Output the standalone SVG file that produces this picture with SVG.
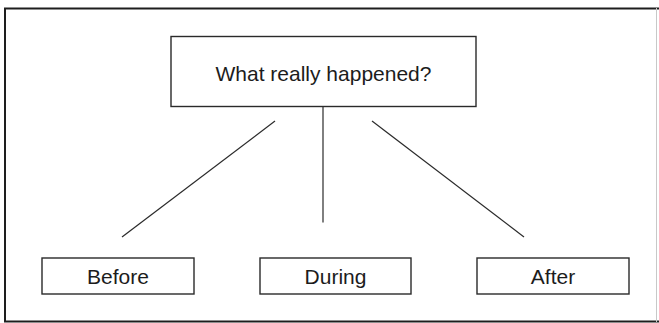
<svg xmlns="http://www.w3.org/2000/svg" width="659" height="323" viewBox="0 0 659 323">
  <style>
    .box { fill: #ffffff; stroke: #2a2a2a; stroke-width: 1.4; }
    .label { font-family: "Liberation Sans", Arial, sans-serif; font-size: 21px; fill: #1c1c1c; text-anchor: middle; }
    .link { stroke: #2a2a2a; stroke-width: 1.2; fill: none; }
    .frame { stroke: #1e1e1e; stroke-width: 2; fill: none; }
  </style>
  <rect width="659" height="323" fill="#ffffff"/>

  <!-- outer frame -->
  <g id="frame">
    <line class="frame" x1="4" y1="8.5" x2="659" y2="8.5"/>
    <line class="frame" x1="5" y1="8" x2="5" y2="322"/>
    <line class="frame" x1="4" y1="321.5" x2="659" y2="321.5"/>
    <line x1="656.5" y1="8" x2="656.5" y2="322" stroke="#c8c8c8" stroke-width="1"/>
  </g>

  <!-- connectors -->
  <g id="connectors">
    <line class="link" x1="275" y1="121" x2="122" y2="237"/>
    <line class="link" x1="323" y1="107" x2="323" y2="222.5"/>
    <line class="link" x1="372" y1="121" x2="524" y2="237"/>
  </g>

  <g id="question">
    <rect class="box" x="171" y="36.5" width="305" height="70"/>
    <text class="label" x="323.5" y="81">What really happened?</text>
  </g>

  <g id="before">
    <rect class="box" x="42" y="258" width="152" height="36"/>
    <text class="label" x="118" y="283.5">Before</text>
  </g>

  <g id="during">
    <rect class="box" x="260" y="258" width="151" height="36"/>
    <text class="label" x="335.5" y="283.5">During</text>
  </g>

  <g id="after">
    <rect class="box" x="477" y="258" width="152" height="36"/>
    <text class="label" x="553" y="283.5">After</text>
  </g>
</svg>
